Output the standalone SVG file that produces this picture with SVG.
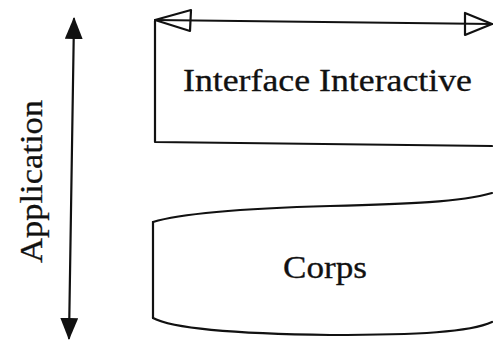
<svg xmlns="http://www.w3.org/2000/svg" width="493" height="343" viewBox="0 0 493 343">
  <style>
    .line { fill: none; stroke: #111; stroke-width: 2.2; stroke-linecap: round; stroke-linejoin: round; }
    .label { font-family: "Liberation Serif", "DejaVu Serif", serif; font-size: 31px; fill: #111; stroke: #111; stroke-width: 0.3; }
  </style>
  <defs>
    <marker id="solid" viewBox="0 0 22 18" refX="20" refY="9" markerWidth="22" markerHeight="18" markerUnits="userSpaceOnUse" orient="auto-start-reverse">
      <path d="M0,0 L22,9 L0,18 Z" fill="#111"/>
    </marker>
  </defs>
  <rect width="493" height="343" fill="#fff"/>

  <!-- interactive interface layer -->
  <g id="interface">
    <path class="line" d="M155,21 L155,142 L492,146"/>
    <text class="label" x="183" y="91" textLength="289" lengthAdjust="spacingAndGlyphs">Interface Interactive</text>
  </g>

  <!-- application body -->
  <g id="corps">
    <path class="line" d="M153,222 C185,212 260,208 330,206 C410,204 460,202 492,193"/>
    <path class="line" d="M153,222 L153,318"/>
    <path class="line" d="M153,318 C175,330 250,334 330,335 C420,335 470,332 492,322"/>
    <text class="label" x="283" y="278" textLength="84" lengthAdjust="spacingAndGlyphs">Corps</text>
  </g>

  <!-- application scope label -->
  <g id="application">
    <text class="label" transform="translate(42,181.5) rotate(-90)" text-anchor="middle" textLength="163" lengthAdjust="spacingAndGlyphs">Application</text>
  </g>

  <g id="connectors">
    <!-- vertical extent arrow -->
    <path class="line" d="M74,19 L69,338" marker-start="url(#solid)" marker-end="url(#solid)" stroke-width="2"/>
    <!-- horizontal double arrow with open heads -->
    <path class="line" d="M155,20 L492,24"/>
    <path class="line" d="M155,20 L191,10 L190,31 Z"/>
    <path class="line" d="M492,24 L465,13 L465,35 Z"/>
  </g>
</svg>
